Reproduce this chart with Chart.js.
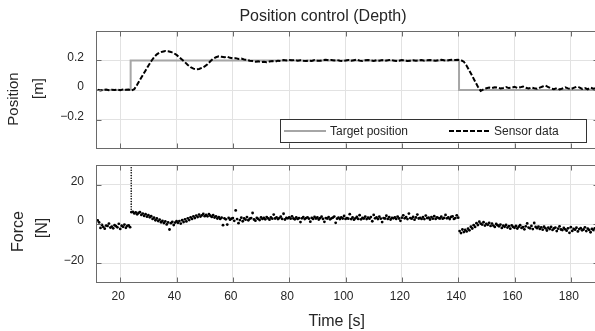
<!DOCTYPE html>
<html><head><meta charset="utf-8">
<script src="https://cdn.jsdelivr.net/npm/chart.js@4.4.1/dist/chart.umd.min.js"></script>
<style>
html,body{margin:0;padding:0;background:#fff;overflow:hidden;width:595px;height:331px}
canvas{position:absolute;left:0;top:0}
</style></head><body>
<canvas id="posChart" width="605" height="331"></canvas>
<canvas id="forceChart" width="605" height="331"></canvas>
<script>
// ---- data ----
const X_MIN = 11.4, X_MAX = 190;
const xTicks = [20, 40, 60, 80, 100, 120, 140, 160, 180];
const posTicks = [-0.2, 0, 0.2];
const forceTicks = [-20, 0, 20];

const targetTime = [11.4, 23.7, 140.3, 190];
const targetPos  = [0, 0.2, 0, 0];

const sensorStart = 12, sensorStep = 1;   // seconds
const sensorPos = [
  0.002, -0.003, 0.001, 0.004, -0.001, 0.002, 0.000, 0.003,            // 12-19
  -0.002, 0.004, 0.001, 0.003, -0.004, 0.006, 0.035, 0.068, 0.100, 0.132, // 20-29
  0.165, 0.195, 0.222, 0.242, 0.254, 0.260, 0.264, 0.262, 0.258, 0.250,   // 30-39
  0.238, 0.222, 0.205, 0.188, 0.170, 0.155, 0.145, 0.141, 0.143, 0.150,   // 40-49
  0.160, 0.175, 0.195, 0.212, 0.222, 0.228, 0.225, 0.222, 0.226, 0.218,   // 50-59
  0.214, 0.216, 0.211, 0.213, 0.207, 0.204, 0.199, 0.196, 0.192, 0.194,   // 60-69
  0.190, 0.192, 0.188, 0.193, 0.196, 0.192, 0.199, 0.197, 0.203, 0.200,   // 70-79
  0.204, 0.201, 0.203, 0.199, 0.202, 0.198, 0.196, 0.200, 0.197, 0.203,   // 80-89
  0.199, 0.198, 0.203, 0.205, 0.201, 0.204, 0.200, 0.203, 0.199, 0.197,   // 90-99
  0.200, 0.204, 0.198, 0.202, 0.206, 0.199, 0.196, 0.201, 0.204, 0.200,   // 100-109
  0.197, 0.202, 0.199, 0.203, 0.198, 0.201, 0.205, 0.200, 0.197, 0.199,   // 110-119
  0.203, 0.200, 0.196, 0.199, 0.202, 0.198, 0.200, 0.203, 0.199, 0.201,   // 120-129
  0.204, 0.200, 0.198, 0.202, 0.205, 0.201, 0.199, 0.203, 0.206, 0.203,   // 130-139
  0.205, 0.202, 0.192, 0.165, 0.130, 0.095, 0.058, 0.022, -0.006, 0.004,  // 140-149
  0.012, 0.016, 0.013, 0.019, 0.017, 0.011, 0.014, 0.020, 0.013, 0.016,   // 150-159
  0.021, 0.014, 0.018, 0.024, 0.015, 0.010, 0.017, 0.012, 0.008, 0.016,   // 160-169
  0.024, 0.030, 0.020, 0.010, 0.006, 0.013, 0.004, 0.010, 0.018, 0.011,   // 170-179
  0.006, 0.014, 0.022, 0.018, 0.007, 0.013, 0.005, 0.016, 0.009, 0.012,   // 180-189
  0.010                                                                  // 190
];

const forceStart = 12, forceStep = 0.5;   // seconds
const forceN = [
  1.8, 0.8, -2.0, -0.5, -1.5, -2.4, -0.8, -1.0, 0.2, -1.8,
  -1.3, -2.2, -0.6, -1.1, -1.7, 0.1, -2.5, -0.9, -1.4, -0.3,
  -1.9, -1.0, -0.7, -1.6, 6.0,                                   // 12.0-24.0
  6.2, 5.4, 5.9, 4.9, 5.6, 6.0, 4.6, 5.3, 4.1, 5.0, 3.7, 4.5,    // 24.5-30.0
  3.4, 4.0, 2.6, 3.2, 1.9, 2.8, 1.5, 2.2, 0.9, 1.6, 0.5, 1.3, -0.2, 0.8, -2.8, 0.4, 1.1, -0.5, 0.7, 1.4,   // 30.5-40
  0.6, 1.5, 0.2, 1.9, 1.0, 2.4, 1.3, 2.9, 2.0, 3.4, 2.6, 3.9, 3.0, 4.3, 3.5, 4.8, 3.8, 4.4, 5.1, 4.0,      // 40.5-50
  4.6, 3.9, 5.0, 4.2, 3.6, 4.5, 3.3, 3.9, 2.8, 3.5, 2.6, 3.2, -0.6, 2.9, 2.4, -0.3, 3.1, 2.2, 2.7, 3.0,    // 50.5-60
  1.6, 6.9, 2.5, 0.4, 2.0, 3.2, 1.4, 2.8, 2.2, 3.5, 1.9, 2.7, 3.0, 5.6, 2.3, 1.7, 3.1, 2.6, 2.0, 3.3,      // 60.5-70
  2.6, 3.1, 2.4, 3.5, 2.9, 2.2, 3.3, 2.7, 4.8, 2.8, 3.4, 2.5, 3.0, 3.7, 2.6, 5.2, 2.3, 3.1, 2.9, 3.4,      // 70.5-80
  2.7, 3.9, 2.8, 2.4, 3.3, 2.6, 3.0, 1.0, 2.9, 3.5, 2.5, 3.0, 3.4, 2.7, 1.2, 3.1, 2.6, 3.6, 2.8, 3.3,      // 80.5-90
  2.3, 3.0, 3.7, 2.6, 1.1, 3.0, 2.8, 3.5, 2.4, 2.9, 3.2, 3.8, 0.6, 2.7, 3.2, 2.5, 3.4, 2.8, 4.1, 2.6,      // 90.5-100
  3.0, 2.7, 5.0, 2.5, 3.3, 2.2, 2.9, 3.6, 2.6, 4.5, 2.4, 3.1, 2.8, 3.8, 2.5, 3.2, 2.7, 3.5, 1.4, 4.6,      // 100.5-110
  2.9, 3.3, 2.5, 3.7, 2.7, 1.0, 3.0, 2.8, 4.2, 2.6, 3.5, 2.3, 3.1, 2.9, 3.4, 2.6, 3.8, 2.8, 1.6, 3.2,      // 110.5-120
  4.4, 2.9, 3.5, 2.5, 5.3, 3.0, 2.7, 3.6, 2.2, 3.3, 4.8, 2.8, 3.1, 2.6, 3.5, 2.5, 4.3, 3.0, 3.2, 2.3,      // 120.5-130
  3.5, 2.7, 4.0, 2.6, 3.4, 3.0, 2.8, 3.7, 2.7, 3.1, 4.6, 2.9, 3.3, 2.5, 3.6, 3.9, 2.6, 3.0, 4.4, 3.2,      // 130.5-140
  -3.6, -4.6, -2.8, -4.1, -3.0, -3.8, -2.4, -3.2, -1.4, -2.3, -0.6, -1.5, 0.4, -0.5, 1.2, 0.2, -0.3, 0.9, -0.8, 0.1,   // 140.5-150
  -0.4, 0.6, -1.0, 0.2, -0.8, -1.5, 0.0, -0.6, -1.2, -0.3, -2.0, -0.9, -1.4, -0.5, -1.8, -1.1, -2.4, -0.7, -1.5, -1.9, // 150.5-160
  -1.0, -2.3, -1.4, -0.6, -2.0, -1.6, -2.7, -1.2, 0.3, -1.8, -2.2, -1.0, -2.6, 0.5, -1.5, -2.1, -1.3, -2.5, -1.7, -2.9, // 160.5-170
  -1.4, -2.2, -3.3, -1.9, -2.6, -1.5, -3.0, -2.3, -1.8, -3.6, -2.4, -1.2, -2.8, -3.1, -2.0, -2.7, -3.4, -2.2, -4.5, -1.6, // 170.5-180
  -3.5, -2.5, -2.9, -1.9, -3.8, -2.6, -2.1, -3.2, -2.8, -1.7, -3.6, -2.4, -3.0, -4.2, -2.5, -3.1, -2.2, -3.9, -2.7, -3.3  // 180.5-190
];

const spikeTime  = [23.9, 23.9, 23.9, 23.9, 23.9, 23.9, 23.9, 23.9, 23.9, 23.9, 23.9, 23.9, 23.9, 23.9, 23.9, 23.9, 23.9, 23.9];
const spikeForce = [28.6, 27.3, 26.0, 24.6, 23.3, 22.0, 20.7, 19.4, 18.0, 16.7, 15.4, 14.1, 12.8, 11.4, 10.1, 8.8, 7.5, 6.2];

// ---- styling helpers ----
const FONT = '"Liberation Sans", Arial, "DejaVu Sans", sans-serif';
const TXT = '#262626';
const GRID = '#e2e2e2';
const AXIS = '#6a6a6a';
function fmt(v) {
  const s = String(Math.round(v * 100) / 100);
  return s.replace('-', '\u2212');
}

const framePlugin = {
  id: 'frame',
  afterDatasetsDraw(chart) {
    const { ctx, chartArea: a, scales } = chart;
    const L = Math.round(a.left) + 0.5, R = Math.round(a.right) - 0.5;
    const T = Math.round(a.top) + 0.5, B = Math.round(a.bottom) - 0.5;
    ctx.save();
    ctx.strokeStyle = AXIS;
    ctx.lineWidth = 1;
    ctx.beginPath();
    scales.x.ticks.forEach(t => {
      const px = Math.round(scales.x.getPixelForValue(t.value)) + 0.5;
      ctx.moveTo(px, B); ctx.lineTo(px, B - 5);
      ctx.moveTo(px, T); ctx.lineTo(px, T + 5);
    });
    scales.y.ticks.forEach(t => {
      const py = Math.round(scales.y.getPixelForValue(t.value)) + 0.5;
      ctx.moveTo(L, py); ctx.lineTo(L + 5, py);
      ctx.moveTo(R, py); ctx.lineTo(R - 5, py);
    });
    ctx.stroke();
    ctx.strokeRect(L, T, R - L, B - T);
    ctx.restore();
  }
};

function textPlugin(items) {
  return {
    id: 'texts',
    afterDraw(chart) {
      const ctx = chart.ctx;
      ctx.save();
      ctx.fillStyle = TXT;
      items.forEach(it => {
        ctx.save();
        ctx.font = it.font;
        ctx.translate(it.x, it.y);
        if (it.rot) ctx.rotate(-Math.PI / 2);
        ctx.textAlign = 'center';
        ctx.textBaseline = 'alphabetic';
        ctx.fillText(it.text, 0, 0);
        ctx.restore();
      });
      ctx.restore();
    }
  };
}

const legendPlugin = {
  id: 'insideLegend',
  afterDraw(chart) {
    const ctx = chart.ctx;
    const ds = chart.data.datasets;
    ctx.save();
    ctx.fillStyle = '#fff';
    ctx.fillRect(280.5, 119.5, 306, 23);
    ctx.strokeStyle = '#333';
    ctx.lineWidth = 1;
    ctx.strokeRect(280.5, 119.5, 306, 23);
    ctx.strokeStyle = ds[1].borderColor; ctx.lineWidth = 2;
    ctx.beginPath(); ctx.moveTo(284, 131); ctx.lineTo(326, 131); ctx.stroke();
    ctx.strokeStyle = ds[0].borderColor; ctx.setLineDash(ds[0].borderDash);
    ctx.beginPath(); ctx.moveTo(449, 131); ctx.lineTo(491, 131); ctx.stroke();
    ctx.setLineDash([]);
    ctx.fillStyle = TXT;
    ctx.font = '12px ' + FONT;
    ctx.textAlign = 'left'; ctx.textBaseline = 'alphabetic';
    ctx.fillText(ds[1].label, 330, 135);
    ctx.fillText(ds[0].label, 494, 135);
    ctx.restore();
  }
};

function xScale(showLabels) {
  return {
    type: 'linear', min: X_MIN, max: X_MAX,
    afterBuildTicks: s => { s.ticks = xTicks.map(v => ({ value: v })); },
    afterFit: s => { s.height = showLabels ? 48 : 0; },
    grid: { color: GRID, drawTicks: false, lineWidth: 1 },
    border: { display: false },
    ticks: { display: showLabels, padding: 6, labelOffset: -2, color: TXT,
             font: { family: FONT, size: 12 }, callback: v => fmt(v) }
  };
}
function yScale(min, max, tickVals) {
  return {
    type: 'linear', min, max,
    afterBuildTicks: s => { s.ticks = tickVals.map(v => ({ value: v })); },
    afterFit: s => { s.width = 96; },
    grid: { color: GRID, drawTicks: false, lineWidth: 1 },
    border: { display: false },
    ticks: { padding: 12, labelOffset: -3, color: TXT,
             font: { family: FONT, size: 12 }, callback: v => fmt(v) }
  };
}

const common = {
  responsive: false, animation: false, devicePixelRatio: 1,
  plugins: { legend: { display: false }, tooltip: { enabled: false }, title: { display: false } }
};

new Chart(document.getElementById('posChart'), {
  type: 'line',
  data: {
    datasets: [
      { label: 'Sensor data', order: 0,
        data: sensorPos.map((v, i) => ({ x: sensorStart + i * sensorStep, y: v })),
        borderColor: '#000', borderWidth: 2, borderDash: [5, 2], pointRadius: 0, tension: 0 },
      { label: 'Target position', order: 1,
        data: targetPos.map((v, i) => ({ x: targetTime[i], y: v })),
        borderColor: '#a6a6a6', borderWidth: 2, pointRadius: 0, stepped: 'before' }
    ]
  },
  options: Object.assign({}, common, {
    layout: { padding: { top: 31, bottom: 182, left: 0, right: 6 } },
    scales: { x: xScale(false), y: yScale(-0.4, 0.4, posTicks) }
  }),
  plugins: [framePlugin, legendPlugin, textPlugin([
    { text: 'Position control (Depth)', x: 323, y: 20.5, font: '16px ' + FONT },
    { text: 'Position', x: 18.3, y: 99, rot: true, font: '15px ' + FONT },
    { text: '[m]', x: 42.5, y: 88.5, rot: true, font: '15px ' + FONT }
  ])]
});

new Chart(document.getElementById('forceChart'), {
  type: 'scatter',
  data: {
    datasets: [
      { label: 'Force', data: forceN.map((v, i) => ({ x: forceStart + i * forceStep, y: v })),
        showLine: false, pointRadius: 1.4, pointBorderWidth: 0, backgroundColor: '#000', borderColor: '#000' },
      { label: 'Force spike', data: spikeForce.map((v, i) => ({ x: spikeTime[i], y: v })),
        showLine: false, pointRadius: 0.8, pointBorderWidth: 0, backgroundColor: '#000', borderColor: '#000' }
    ]
  },
  options: Object.assign({}, common, {
    layout: { padding: { top: 165, bottom: 0, left: 0, right: 6 } },
    scales: { x: xScale(true), y: yScale(-30, 30, forceTicks) }
  }),
  plugins: [framePlugin, textPlugin([
    { text: 'Force', x: 23.3, y: 231.5, rot: true, font: '16px ' + FONT },
    { text: '[N]', x: 47, y: 228, rot: true, font: '16px ' + FONT },
    { text: 'Time [s]', x: 336.7, y: 325.5, font: '16px ' + FONT }
  ])]
});
</script>
</body></html>
